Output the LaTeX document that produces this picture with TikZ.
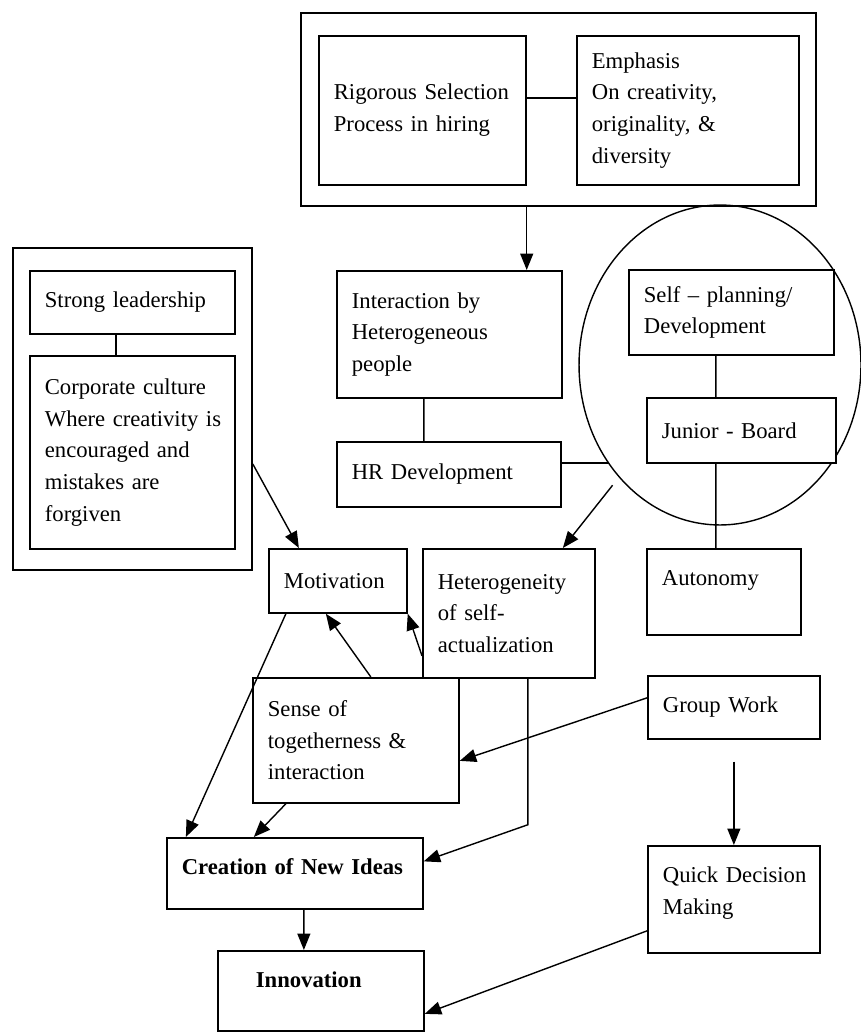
\documentclass[tikz,border=0pt]{standalone}
\usepackage{fontspec}
\setmainfont{Liberation Serif}
\usetikzlibrary{shapes.geometric,arrows.meta,positioning}
\hyphenpenalty=10000
\exhyphenpenalty=10000
\tikzset
{
    box/.style      = {rectangle, draw=black, fill=white, line width=1pt, anchor=north west, align=left, inner xsep=0.3cm, inner ysep=0pt, font=\fontsize{12.9}{18}\selectfont},
    topbox/.style   = {box, text height=0.74cm},
    outerbox/.style = {rectangle, draw=black, fill=white, line width=1pt, anchor=north west, inner sep=0pt},
    link/.style     = {line width=0.8pt},
    arr/.style      = {line width=0.8pt, -{Triangle[length=0.33cm, width=0.26cm]}}
}

\begin{document}
\begin{tikzpicture}[x=0.02cm, y=-0.02cm]
\useasboundingbox (0,0) rectangle (860,1033);
\node [outerbox, minimum width=10.3cm, minimum height=3.86cm] at (300,12) (selbox) {};
\node [box, text width=3.54cm, minimum height=2.98cm] at (318,35) (rig) {Rigorous Selection\\Process in hiring};
\node [box, text width=3.84cm, minimum height=2.98cm] at (576,35) (emph) {Emphasis\\On creativity,\\originality, \&\\diversity};
\node [outerbox, minimum width=4.78cm, minimum height=6.44cm] at (12,247) (leftbox) {};
\node [box, text width=3.5cm, minimum height=1.26cm] at (29,270) (strong) {Strong leadership};
\node [box, text width=3.5cm, minimum height=3.86cm] at (29,355) (corp) {Corporate culture\\Where~creativity~is\\encouraged and\\mistakes are\\forgiven};
\node [box, text width=3.9cm, minimum height=2.54cm] at (336,270) (inter) {Interaction by\\Heterogeneous\\people};
\node [box, text width=3.88cm, minimum height=1.3cm] at (336,441) (hr) {HR Development};
\node [ellipse, draw=black, line width=0.8pt, minimum width=5.64cm, minimum height=6.4cm, inner sep=0pt] at (720,365) (circ) {};
\node [box, text width=3.5cm, minimum height=1.7cm] at (628,269) (self) {Self -- planning/\\Development};
\node [box, text width=3.18cm, minimum height=1.3cm] at (646,397) (junior) {Junior - Board};
\node [topbox, text width=2.48cm, text depth=0.98cm] at (646,548) (auto) {Autonomy};
\node [box, text width=2.16cm, minimum height=1.28cm] at (268,548) (motiv) {Motivation};
\node [box, text width=2.84cm, minimum height=2.58cm] at (422,548) (heter) {Heterogeneity\\of self-\\actualization};
\node [box, text width=3.52cm, minimum height=2.5cm] at (252,677) (sense) {Sense of\\togetherness \&\\interaction};
\node [box, text width=2.84cm, minimum height=1.26cm] at (647,675) (group) {Group Work};
\node [topbox, text width=2.84cm, text depth=1.4cm] at (647,845) (quick) {Quick~Decision\\Making};
\node [topbox, text width=4.52cm, text depth=0.68cm] at (166,837) (creat) {\textbf{Creation of New Ideas}};
\node [topbox, text width=3.52cm, text depth=0.86cm] at (217,950) (innov) {\hspace*{0.46cm}\textbf{Innovation}};
\draw [link] ([yshift=0.25cm]rig.east) -- ([yshift=0.25cm]emph.west);
\draw [arr] (rig.east |- selbox.south) -- (rig.east |- inter.north);
\draw [link] ([xshift=-0.33cm]strong.south) -- ([xshift=-0.33cm]corp.north);
\draw [arr] ([yshift=-1.1cm]leftbox.east) -- ([xshift=-0.78cm]motiv.north);
\draw [link] ([xshift=-0.51cm]inter.south) -- ([xshift=-0.5cm]hr.north);
\draw [link] ([yshift=0.23cm]hr.east) -- ([yshift=0.23cm]hr.east -| circ.221);
\draw [arr, shorten <=0.2cm] (circ.228) -- ([xshift=1.08cm]heter.north);
\draw [link] ([xshift=-0.31cm]self.south) -- ([xshift=-0.51cm]junior.north);
\draw [link] ([xshift=-0.51cm]junior.south) -- ([xshift=-0.16cm]auto.north);
\draw [arr] ([xshift=-1.04cm]motiv.south) -- ([xshift=-2.18cm]creat.north);
\draw [arr] ([xshift=0.3cm]sense.north) -- ([xshift=-0.24cm]motiv.south);
\draw [arr] ([yshift=-0.85cm]heter.west) -- (motiv.south east);
\draw [arr] ([xshift=-1.4cm]sense.south) -- ([xshift=-0.82cm]creat.north);
\draw [arr] ([xshift=0.38cm]heter.south) -- ++(0,146) -- ([yshift=0.24cm]creat.east);
\draw [arr] ([yshift=0.19cm]group.west) -- ([yshift=-0.41cm]sense.east);
\draw [arr] ([yshift=-0.44cm]group.south) -- (quick.north);
\draw [arr] ([yshift=-0.63cm]quick.west) -- ([yshift=-0.46cm]innov.east);
\draw [arr] ([xshift=0.18cm]creat.south) -- ([xshift=-0.34cm]innov.north);
\end{tikzpicture}
\end{document}
